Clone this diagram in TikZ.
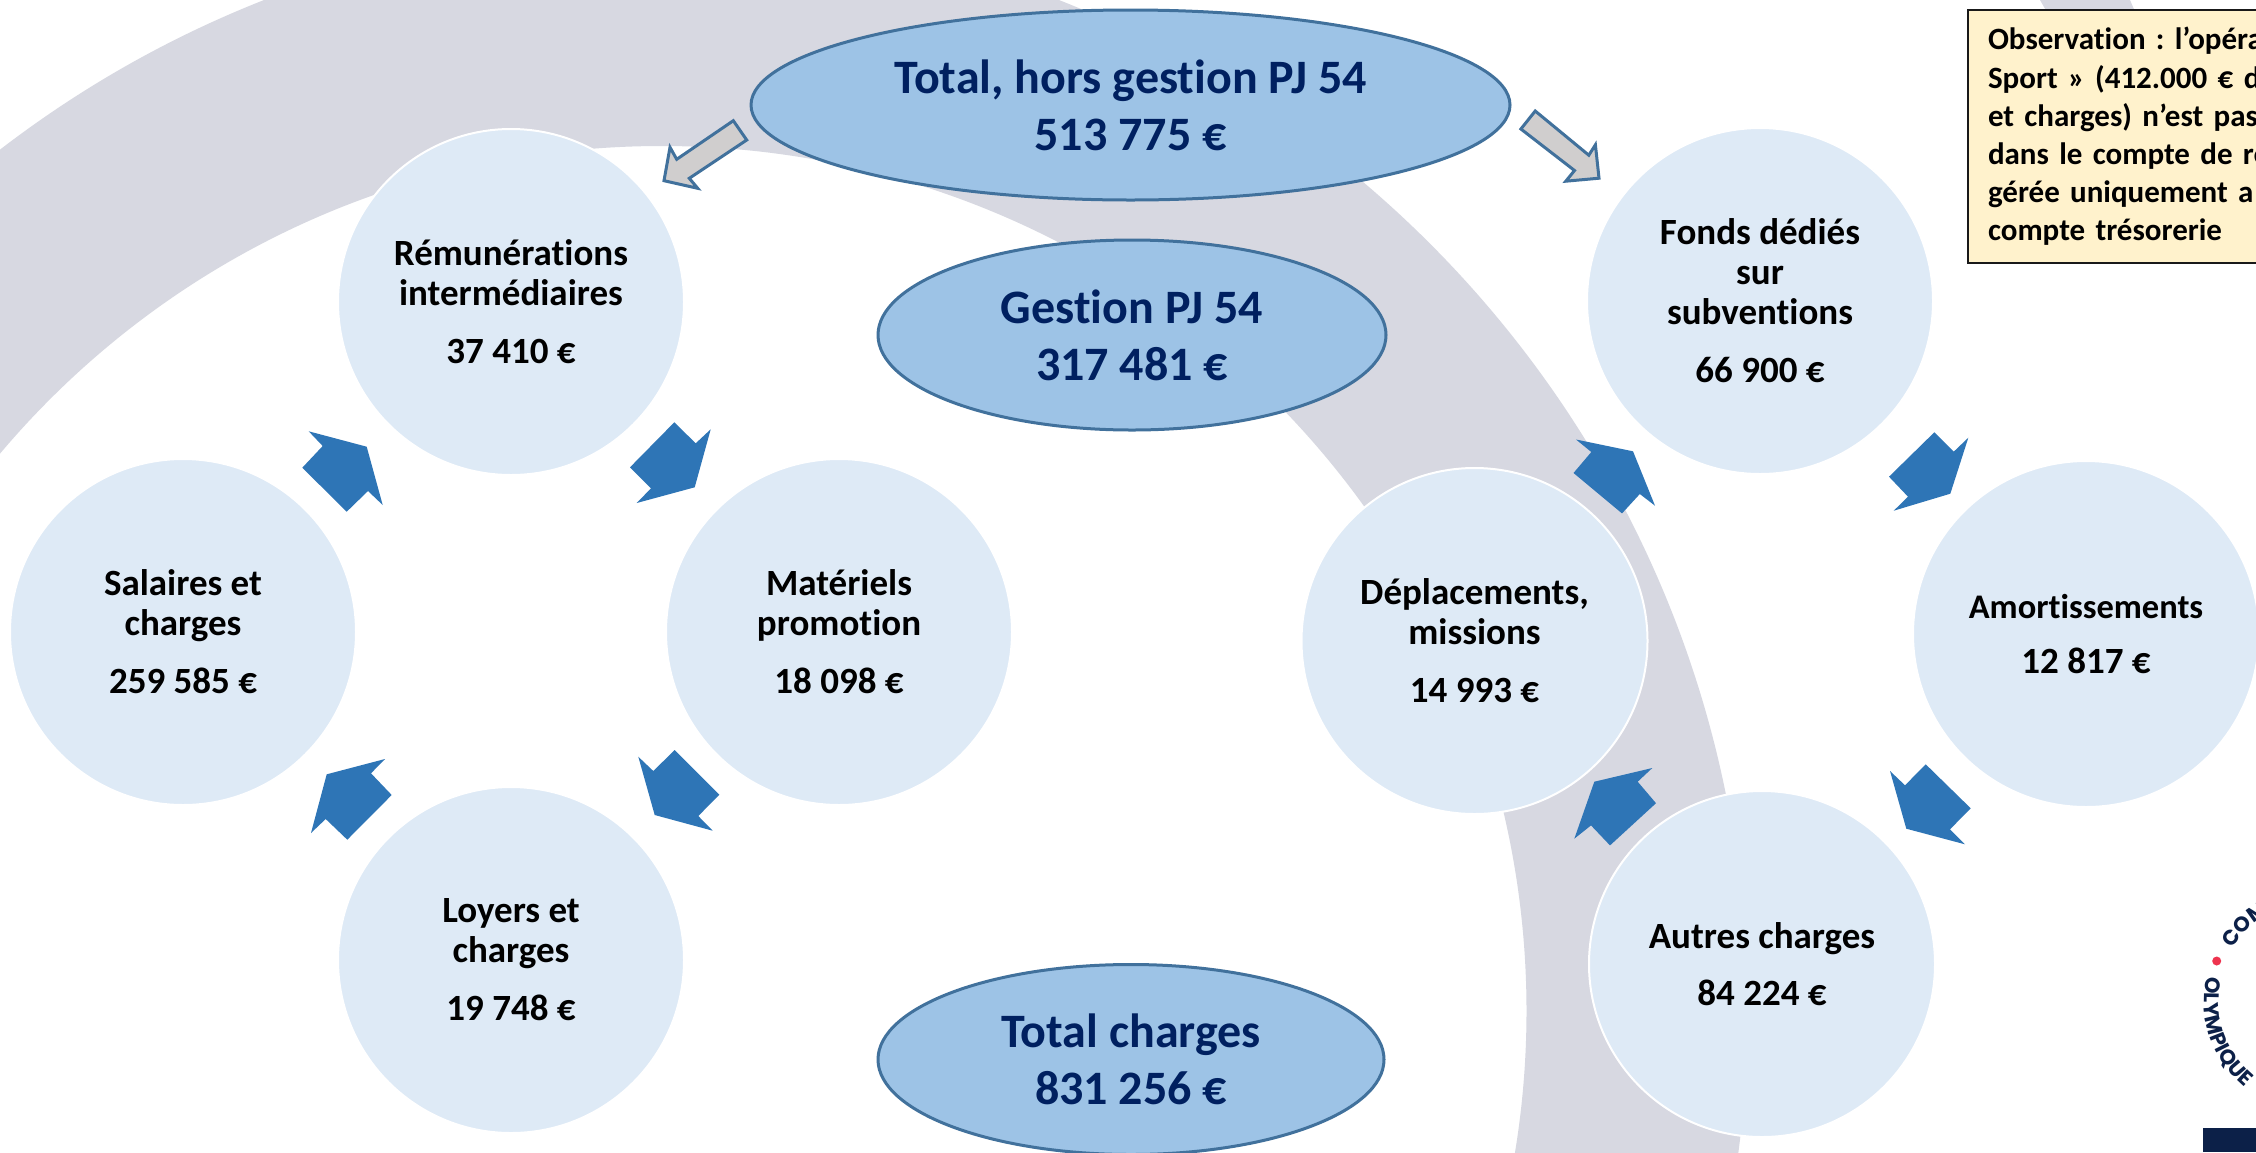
\documentclass[tikz,border=0pt]{standalone}
\usepackage{fontspec}
\setmainfont{Carlito}[Ligatures=NoCommon]
\newfontfamily\logofont{Poppins}
\frenchspacing
\usetikzlibrary{shapes.geometric,decorations.text}
\definecolor{ringgray}{HTML}{D7D8E1}
\definecolor{circfill}{HTML}{DEEAF6}
\definecolor{ellfill}{HTML}{9DC3E6}
\definecolor{ellline}{HTML}{41719C}
\definecolor{titlenavy}{HTML}{002060}
\definecolor{arrowblue}{HTML}{2E75B6}
\definecolor{grayarrow}{HTML}{D0CECE}
\definecolor{notefill}{HTML}{FFF2CC}
\definecolor{logonavy}{HTML}{0C2048}
\definecolor{logored}{HTML}{EE334E}
\tikzset{
  item/.style={circle,fill=circfill,draw=white,line width=2pt,minimum size=346pt,inner sep=0pt,outer sep=0pt,align=center,text=black,font=\fontsize{37}{40}\selectfont\bfseries},
  summary/.style={ellipse,fill=ellfill,draw=ellline,line width=3pt,inner sep=0pt,outer sep=0pt,align=center,text=titlenavy,font=\fontsize{48}{57}\selectfont\bfseries},
  bluearrow/.style={fill=arrowblue},
  outarrow/.style={fill=grayarrow,draw=ellline,line width=3pt,line join=miter},
  note/.style={rectangle,anchor=north west,fill=notefill,draw=black!90,line width=2.5pt,inner sep=0pt,outer sep=0pt,text width=400pt,minimum height=253pt,inner xsep=20pt,align=left,text=black,font=\fontsize{31}{38.2}\selectfont\bfseries}
}
\begin{document}
\begin{tikzpicture}[x=1pt,y=-1pt]
\useasboundingbox (0,0) rectangle (2256,1152);
\clip (0,0) rectangle (2256,1152);
\fill[white] (0,0) rectangle (2256,1152);
% background ring
\fill[ringgray,even odd rule] (661.5,1011) circle[radius=1086pt] (661.5,1011) circle[radius=865pt];
\fill[ringgray] (2040,0) -- (2048,14) -- (2136,14) -- (2130,0) -- cycle;
% circles
\node[item] (rem) at (511,302) {Rémunérations\\intermédiaires\\[18pt]37 410 €};
\node[item] (sal) at (183,632) {Salaires et\\charges\\[18pt]259 585 €};
\node[item] (mat) at (839,632) {Matériels\\promotion\\[18pt]18 098 €};
\node[item] (loy) at (511,960) {Loyers et\\charges\\[18pt]19 748 €};
\node[item] (fon) at (1760,301) {Fonds dédiés\\sur\\subventions\\[18pt]66 900 €};
\node[item] (amo) at (2086,634) {{\fontsize{34.5}{40}\selectfont Amortissements}\\[15pt]12 817 €};
\node[item] (dep) at (1474.5,641) {Déplacements,\\missions\\[18pt]14 993 €};
\node[item] (aut) at (1762,964) {Autres charges\\[17pt]84 224 €};
% ellipses
\node[summary,minimum width=759pt,minimum height=190pt] (hors) at (1130.5,105) {Total, hors gestion PJ 54\\513 775 €};
\node[summary,minimum width=508pt,minimum height=190pt] (gest) at (1132,335) {Gestion PJ 54\\317 481 €};
\node[summary,minimum width=506pt,minimum height=190pt] (totc) at (1131,1059.5) {Total charges\\831 256 €};
% grey arrows
\draw[outarrow] (733.3,120.7) -- (746.7,140) -- (689.3,178.3) -- (697.7,188.3) -- (664,180.7) -- (670,147.3) -- (676.7,159.3) -- cycle;
\draw[outarrow] (1535.2,111) -- (1588.8,155.2) -- (1595.4,144.8) -- (1599,178.2) -- (1565.8,181.2) -- (1574.5,170.5) -- (1520.9,129) -- cycle;
% blue arrows, left cycle
\fill[bluearrow] (366.7,446.7) -- (308.7,431.3) -- (322.7,446) -- (302.3,467.7) -- (346.7,511.7) -- (368,491) -- (382.7,505) -- cycle;
\fill[bluearrow] (674.3,422.3) -- (695.7,443.3) -- (710.7,429.3) -- (694.7,487.3) -- (636.7,503) -- (651,488.3) -- (630,467.3) -- cycle;
\fill[bluearrow] (638.3,756.7) -- (653.3,771) -- (674.7,750) -- (719.3,794.7) -- (698.3,816) -- (712.7,830.7) -- (654.7,815) -- cycle;
\fill[bluearrow] (385,759) -- (371,773.3) -- (391.7,795) -- (347.3,839.7) -- (325.7,819) -- (311,833) -- (326.7,774.3) -- cycle;
% blue arrows, right cycle
\fill[bluearrow] (1934.3,432.3) -- (1953.7,451.7) -- (1968.3,437.7) -- (1950.3,493.7) -- (1893.7,510.7) -- (1908,496.7) -- (1889,476.7) -- cycle;
\fill[bluearrow] (1890,771) -- (1905,785.3) -- (1925.7,764.3) -- (1970.7,808.3) -- (1950,829.3) -- (1965,844.3) -- (1906.3,828.7) -- cycle;
\fill[bluearrow] (1652.3,768) -- (1637.7,781.7) -- (1656,803.2) -- (1610,845.4) -- (1591,825.4) -- (1574.3,838.7) -- (1594.3,781.7) -- cycle;
\fill[bluearrow] (1576,439.5) -- (1591.3,452) -- (1573.5,473) -- (1622,513.4) -- (1639.8,494) -- (1655,505.7) -- (1633,451.3) -- cycle;
% note
\node[note] (obs) at (1968,10) {Observation : l’opéra\\Sport » (412.000 € d\\et charges) n’est pas\\dans le compte de ré\\gérée uniquement a\\compte trésorerie};
% logo
\fill[logored] (2216.7,961) circle[radius=4.5pt];
\fill[logonavy] (2203,1128) rectangle (2256,1152);
\path[decorate,decoration={text along path,text align={fit to path},text={|\logofont\bfseries\fontsize{21}{24}\selectfont\color{logonavy}|COM}}]
  plot[domain=211:238,samples=30] ({2318+100*cos(\x)},{1000+100*sin(\x)});
\path[decorate,decoration={text along path,text align={fit to path},text={|\logofont\bfseries\fontsize{21}{24}\selectfont\color{logonavy}|OLYMPIQUE}}]
  plot[domain=192:130,samples=50] ({2318+114*cos(\x)},{1000+114*sin(\x)});
\end{tikzpicture}
\end{document}
